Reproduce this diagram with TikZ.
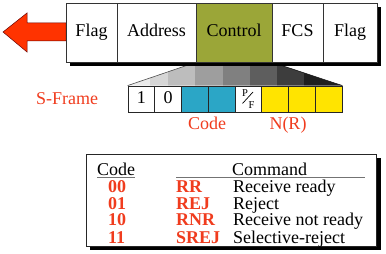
\documentclass[tikz,border=0pt]{standalone}
\usepackage{fontspec}
\setmainfont{Liberation Serif}
\usetikzlibrary{backgrounds}
\definecolor{arrred}{RGB}{255,51,0}
\definecolor{oliveA}{RGB}{155,166,56}
\definecolor{tealA}{RGB}{43,166,198}
\definecolor{yelA}{RGB}{255,228,0}
\definecolor{txtred}{RGB}{240,60,30}
\begin{document}
\begin{tikzpicture}[x=1pt,y=-1pt,
  every node/.style={font=\fontsize{18}{20}\selectfont, inner sep=0pt, text height=11pt, text depth=3pt},
  fcell/.style={draw=black!80, line width=0.8pt, minimum height=59pt, fill=white},
  scell/.style={draw=black!85, line width=0.8pt, minimum height=26pt, minimum width=26.75pt, fill=white},
  redtxt/.style={text=txtred},
  redbold/.style={text=txtred, font=\fontsize{18}{20}\selectfont\bfseries},
  smalltxt/.style={font=\fontsize{10.5}{11}\selectfont, text height=7pt, text depth=0pt},
  shadowbox/.style={fill=black},
  rule/.style={draw=black!55, line width=0.8pt}
]
\useasboundingbox (0,0) rectangle (386,254);
% arrow
\filldraw[fill=arrred, draw=red!40!black, line width=0.5pt]
  (3,32) -- (27,13) -- (27,23) -- (66,23) -- (66,41) -- (27,41) -- (27,52) -- cycle;
% top frame
\fill[shadowbox] (70,7) rectangle (381,66);
\node[fcell, minimum width=51pt] (flagL) at (91.5,32.5) {Flag};
\node[fcell, minimum width=79pt] (addr) at (156.5,32.5) {Address};
\node[fcell, minimum width=76pt, fill=oliveA] (ctrl) at (234,32.5) {Control};
\node[fcell, minimum width=51pt] (fcs) at (297.5,32.5) {FCS};
\node[fcell, minimum width=54pt] (flagR) at (350,32.5) {Flag};
% S-frame cells
\node[scell] (c1) at (141.4,99) {1};
\node[scell] (c2) at (168.1,99) {0};
\node[scell, fill=tealA] (c3) at (194.9,99) {};
\node[scell, fill=tealA] (c4) at (221.6,99) {};
\node[scell] (c5) at (248.4,99) {};
\node[scell, fill=yelA] (c6) at (275.1,99) {};
\node[scell, fill=yelA] (c7) at (301.9,99) {};
\node[scell, fill=yelA] (c8) at (328.6,99) {};
\node[smalltxt] (pP) at (245,93.5) {P};
\node[smalltxt] (pF) at (251.5,105) {F};
\coordinate (slA) at (242.5,103.5);
\coordinate (slB) at (253,92);
\draw[black, line width=0.7pt] (slA) -- (slB);
% fan
\begin{scope}[on background layer]
\begin{scope}
\clip (ctrl.south west) -- (ctrl.south east) -- (c8.north east) -- (c1.north west) -- cycle;
\foreach \a/\b/\g in {120/150/8, 150/168/16, 168/195/26, 195/223/38, 223/250/50, 250/277/63, 277/304/76, 304/350/88}
  \fill[black!\g] (\a,55) rectangle (\b,90);
\end{scope}
\draw[black!70, line width=0.6pt] (ctrl.south west) -- (c1.north west);
\draw[black!90, line width=0.6pt] (ctrl.south east) -- (c8.north east);
\end{scope}
% labels
\node[redtxt] (sframe) at (67,101) {S-Frame};
\node[redtxt] (codelbl) at (207,126) {Code};
\node[redtxt] (nrlbl) at (288,126) {N(R)};
% table
\fill[shadowbox] (90,158) rectangle (381,250);
\node[draw=black!85, line width=0.8pt, fill=white, minimum width=290pt, minimum height=92pt, text height=, text depth=] (tbl) at (231,200) {};
\node[anchor=west] (hcode) at (97,171.5) {Code};
\node (hcmd) at (269.5,171.5) {Command};
\coordinate (ulA) at (176,177);
\coordinate (ulB) at (365,177);
\coordinate (ucA) at (97,177);
\coordinate (ucB) at (135,177);
\draw[rule] (ucA) -- (ucB);
\draw[rule] (ulA) -- (ulB);
\node[redbold, anchor=west] (k1) at (108,188.5) {00};
\node[redbold, anchor=west] (k2) at (108,205) {01};
\node[redbold, anchor=west] (k3) at (108,221.5) {10};
\node[redbold, anchor=west] (k4) at (108,239) {11};
\node[redbold, anchor=west] (n1) at (176,188.5) {RR};
\node[redbold, anchor=west] (n2) at (176,205) {REJ};
\node[redbold, anchor=west] (n3) at (176,221.5) {RNR};
\node[redbold, anchor=west] (n4) at (176,239) {SREJ};
\node[anchor=west] (d1) at (233,188.5) {Receive ready};
\node[anchor=west] (d2) at (233,205) {Reject};
\node[anchor=west] (d3) at (233,221.5) {Receive not ready};
\node[anchor=west] (d4) at (233,239) {Selective-reject};
\end{tikzpicture}
\end{document}
